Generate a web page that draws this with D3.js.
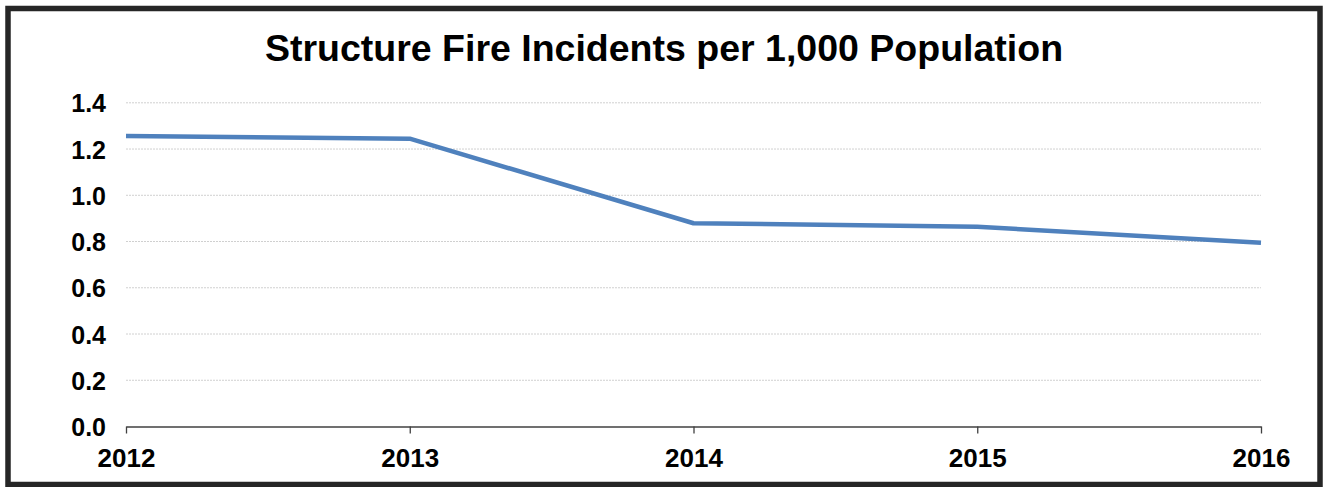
<!DOCTYPE html>
<html><head><meta charset="utf-8">
<script src="https://cdn.jsdelivr.net/npm/d3@7"></script>
<style>body{margin:0;background:#fff}svg{display:block}</style>
</head><body>
<svg id="c" width="1323" height="487"></svg>
<script>
const title = "Structure Fire Incidents per 1,000 Population";
const years = ["2012","2013","2014","2015","2016"];
const values = [1.256, 1.245, 0.879, 0.864, 0.795];
const yTicks = [0,0.2,0.4,0.6,0.8,1.0,1.2,1.4];

const svg = d3.select("#c");
const W=1323,H=487;
const FF = "Liberation Sans, Arial, sans-serif";
svg.append("rect").attr("x",0).attr("y",0).attr("width",W).attr("height",H).attr("fill","#fff");
svg.append("rect").attr("x",8).attr("y",8.5).attr("width",1312).attr("height",476)
  .attr("fill","none").attr("stroke","#262626").attr("stroke-width",5.5);

const x = d3.scalePoint().domain(years).range([126,1261]);
const y = d3.scaleLinear().domain([0,1.4]).range([426.5,102.8]);

svg.append("text").attr("x",664).attr("y",60.5).attr("text-anchor","middle")
  .attr("font-family",FF).attr("font-weight","bold")
  .attr("font-size",37.5).attr("fill","#000").text(title);

// gridlines
svg.append("g").selectAll("line").data(yTicks.filter(d=>d>0)).join("line")
  .attr("x1",126).attr("x2",1261).attr("y1",d=>y(d)).attr("y2",d=>y(d))
  .attr("stroke","#d0d0d0").attr("stroke-width",1).attr("stroke-dasharray","2,1");

// y axis labels
const ya = svg.append("g").attr("transform","translate(126,0)")
  .call(d3.axisLeft(y).tickValues(yTicks).tickFormat(d3.format(".1f")).tickSize(0).tickPadding(20));
ya.select(".domain").remove();
ya.selectAll("text").attr("font-family",FF).attr("font-weight","bold")
  .attr("font-size",25).attr("fill","#000").attr("dy","0.36em");

// x axis
const xa = svg.append("g").attr("transform",`translate(0,${y(0)})`)
  .call(d3.axisBottom(x).tickSize(7).tickPadding(10).tickSizeOuter(0));
xa.select(".domain").attr("stroke","#404040").attr("stroke-width",1.3);
xa.selectAll(".tick line").attr("stroke","#404040").attr("stroke-width",1.3);
xa.selectAll("text").attr("font-family",FF).attr("font-weight","bold")
  .attr("font-size",26).attr("fill","#000").attr("y",40.5).attr("dy",0);

const line = d3.line().x((d,i)=>x(years[i])).y(d=>y(d));
svg.append("path").datum(values).attr("d",line).attr("fill","none")
  .attr("stroke","#4f81bd").attr("stroke-width",4.5).attr("stroke-linejoin","round");
</script>
</body></html>
